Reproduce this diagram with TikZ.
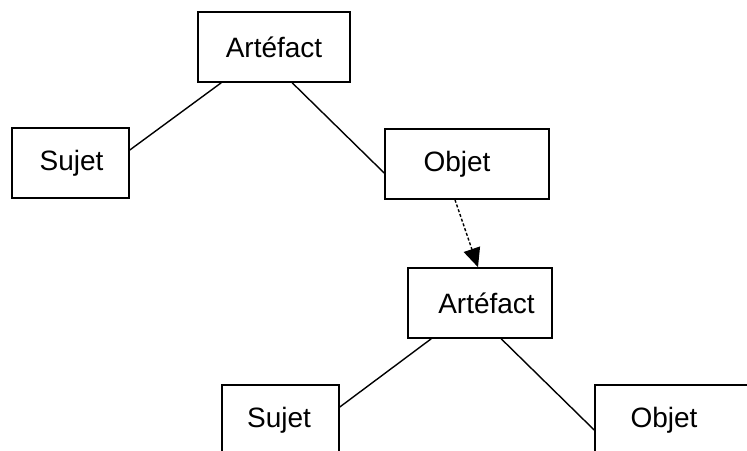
\documentclass[tikz,border=0pt]{standalone}
\usepackage{fontspec}
\setmainfont{Liberation Sans}
\usetikzlibrary{arrows.meta}
\begin{document}
\begin{tikzpicture}[x=1pt,y=-1pt,
  box/.style={draw=black,line width=1.6pt,rectangle,inner sep=0pt,minimum height=70pt},
  txt/.style={inner sep=0pt,font=\fontsize{28}{32}\selectfont},
  link/.style={line width=1.4pt},
  dep/.style={line width=1.4pt,dash pattern=on 3pt off 2pt,-{Triangle[length=19pt,width=17pt]}}]
\useasboundingbox (0,0) rectangle (747,450);
\clip (0,0) rectangle (747,450);
\fill[white] (0,0) rectangle (747,450);
\node[box,minimum width=152pt] (A1) at (274,47) {};
\node[box,minimum width=117pt] (S1) at (70.5,163) {};
\node[box,minimum width=164pt] (O1) at (467,164) {};
\node[box,minimum width=144pt] (A2) at (480,303) {};
\node[box,minimum width=117pt] (S2) at (280.5,420) {};
\node[box,minimum width=164pt] (O2) at (677,420) {};
\node[txt] (A1t) at (274,47) {Artéfact};
\node[txt] (S1t) at (71.5,163) {Sujet};
\node[txt] (O1t) at (457,164) {Objet};
\node[txt] (A2t) at (486.5,303) {Artéfact};
\node[txt] (S2t) at (279,420) {Sujet};
\node[txt] (O2t) at (664,420) {Objet};
\draw[link] ([yshift=13pt]S1.east) -- ([xshift=24pt]A1.south west);
\draw[link] ([xshift=95pt]A1.south west) -- ([yshift=-9pt]O1.west);
\draw[dep] ([xshift=-12pt]O1.south) -- ([xshift=-2pt]A2.north);
\draw[link] ([xshift=24pt]A2.south west) -- ([yshift=13pt]S2.east);
\draw[link] ([xshift=94pt]A2.south west) -- ([yshift=-10pt]O2.west);
\end{tikzpicture}
\end{document}
